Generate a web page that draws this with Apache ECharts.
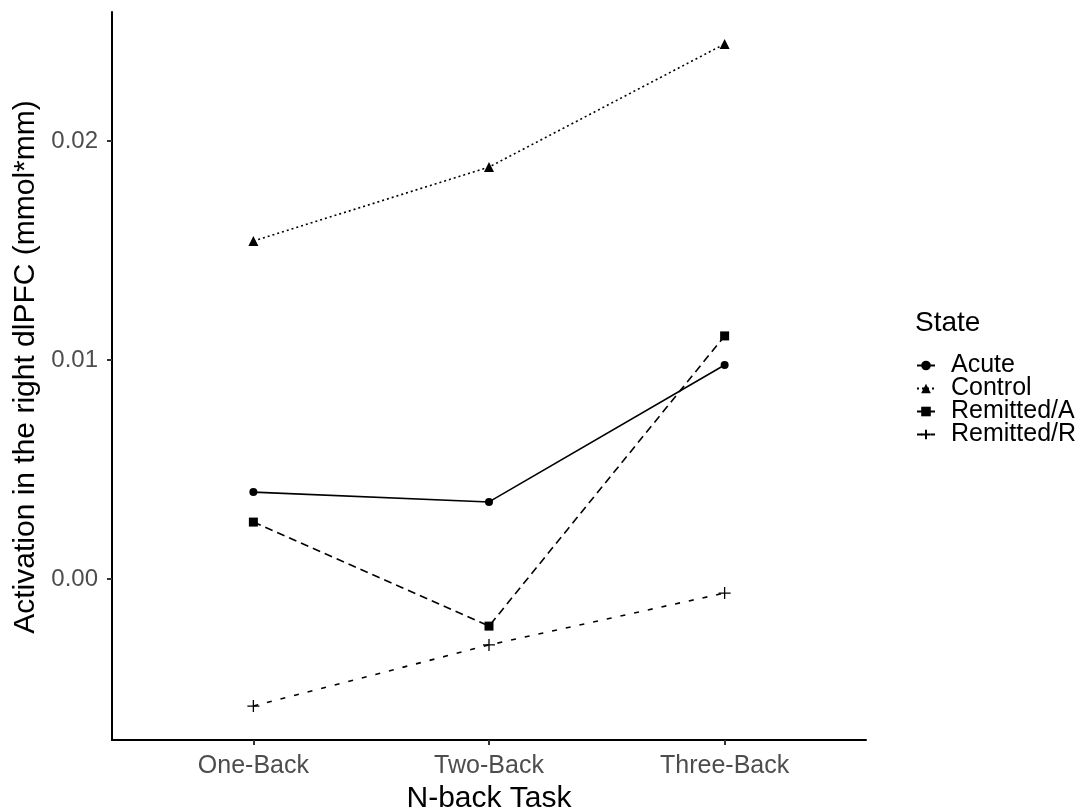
<!DOCTYPE html>
<html>
<head>
<meta charset="utf-8">
<script src="https://cdn.jsdelivr.net/npm/echarts@6/dist/echarts.min.js"></script>
<style>
  html, body { margin: 0; padding: 0; background: #fff; }
  #chart { width: 1080px; height: 811px; }
</style>
</head>
<body>
<div id="chart"></div>
<script>
// task levels on the x axis
var tasks = ['One-Back', 'Two-Back', 'Three-Back'];

// activation per state
var acute = [0.00397, 0.00352, 0.00977];
var control = [0.01543, 0.01881, 0.02443];
var remittedA = [0.00260, -0.00215, 0.01110];
var remittedR = [-0.00580, -0.00301, -0.00064];

var yTicks = [0, 0.01, 0.02];

var plusPath = 'path://M5,0L5,10M0,5L10,5';

function pts(arr) {
    return arr.map(function (v, i) { return [i, v]; });
}

var font = 'Liberation Sans, Arial, sans-serif';

function makeSeries(name, arr, symbol, size, dash) {
    return {
        name: name,
        type: 'line',
        data: pts(arr),
        symbol: symbol,
        symbolSize: size,
        showSymbol: true,
        animation: false,
        itemStyle: {color: '#000', borderWidth: symbol === plusPath ? 1.3 : 0, borderColor: '#000'},
        lineStyle: {color: '#000', width: 1.6, type: dash}
    };
}

var myChart = echarts.init(document.getElementById('chart'));
var option = {
    backgroundColor: '#fff',
    textStyle: {fontFamily: font},
    grid: {left: 112, right: 214, top: 12, bottom: 71, outerBoundsMode: 'none', containLabel: false},
    graphic: [{
        type: 'text',
        left: 915,
        top: 309,
        style: {text: 'State', font: '28px ' + font, fill: '#000'}
    }],
    legend: {
        orient: 'vertical',
        left: 911,
        top: 348,
        itemWidth: 18,
        itemHeight: 12,
        itemGap: -2,
        textStyle: {fontSize: 25, lineHeight: 22, color: '#000', fontFamily: font, padding: [0, 0, 0, 11]},
        data: ['Acute', 'Control', 'Remitted/A', 'Remitted/R']
    },
    xAxis: {
        type: 'value',
        min: -0.6,
        max: 2.6,
        name: 'N-back Task',
        nameLocation: 'middle',
        nameGap: 42,
        nameTextStyle: {fontSize: 30, color: '#000', fontFamily: font},
        splitLine: {show: false},
        axisLine: {show: true, onZero: false, lineStyle: {color: '#000', width: 2}},
        axisTick: {show: true, length: 5, lineStyle: {color: '#333', width: 2}, customValues: [0, 1, 2]},
        axisLabel: {
            customValues: [0, 1, 2],
            fontSize: 25,
            color: '#4d4d4d',
            margin: 14,
            formatter: function (v) { return tasks[Math.round(v)]; }
        }
    },
    yAxis: {
        type: 'value',
        min: -0.00735,
        max: 0.02589,
        name: 'Activation in the right dlPFC (mmol*mm)',
        nameLocation: 'middle',
        nameGap: 63,
        nameRotate: 90,
        nameTextStyle: {fontSize: 30, color: '#000', fontFamily: font, padding: [0, 0, 0, 18]},
        splitLine: {show: false},
        axisLine: {show: true, onZero: false, lineStyle: {color: '#000', width: 2}},
        axisTick: {show: true, length: 5, lineStyle: {color: '#333', width: 2}, customValues: yTicks},
        axisLabel: {
            customValues: yTicks,
            fontSize: 24,
            color: '#4d4d4d',
            margin: 14,
            formatter: function (v) { return v.toFixed(2); }
        }
    },
    series: [
        makeSeries('Acute', acute, 'circle', 8, 'solid'),
        makeSeries('Control', control, 'triangle', 10, [2, 3]),
        makeSeries('Remitted/A', remittedA, 'rect', 9, [8, 5]),
        makeSeries('Remitted/R', remittedR, plusPath, 12, [5, 9])
    ]
};
myChart.setOption(option);
</script>
</body>
</html>
